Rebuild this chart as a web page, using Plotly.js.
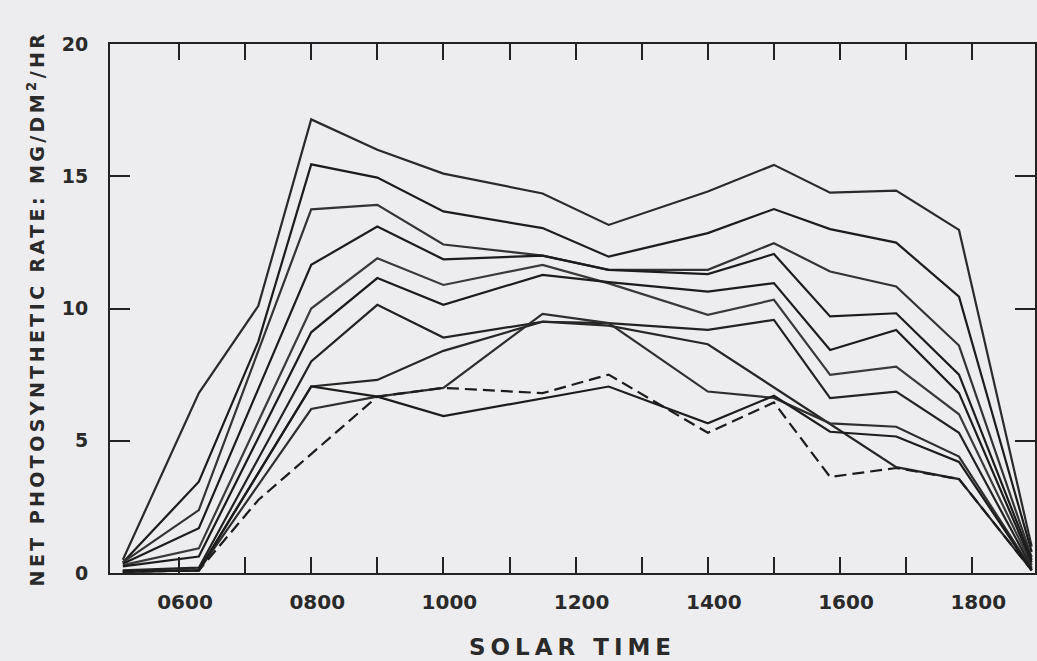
<!DOCTYPE html>
<html>
<head>
<meta charset="utf-8">
<script src="https://cdn.plot.ly/plotly-3.0.1.min.js"></script>
<style>
  html, body { margin: 0; padding: 0; background: #ededef; }
  #chart { width: 1037px; height: 661px; }
  .ytitle { letter-spacing: 3.4px; }
  .xtitle { letter-spacing: 5px; }
</style>
</head>
<body>
<div id="chart"></div>
<script>
// Solar time of each reading (decimal hours)
const times = [5.15, 6.3, 7.2, 8.0, 9.0, 10.0, 11.5, 12.5, 14.0, 15.0, 15.85, 16.85, 17.8, 18.9];

// Net photosynthetic rate, mg/dm^2/hr (null = no vertex drawn at that time)
const curve1 = [0.5, 6.8, 10.1, 17.15, 16.0, 15.1, 14.35, 13.16, 14.42, 15.43, 14.38, 14.46, 12.97, 1.0];
const curve2 = [0.4, 3.45, 8.75, 15.45, 14.95, 13.67, 13.04, 11.96, 12.85, 13.76, 13.0, 12.49, 10.45, 0.8];
const curve3 = [0.4, 2.38, null, 13.75, 13.92, 12.42, 12.0, 11.46, 11.46, 12.47, 11.4, 10.83, 8.6, 0.6];
const curve4 = [0.35, 1.69, null, 11.65, 13.1, 11.86, 12.0, 11.46, 11.3, 12.06, 9.7, 9.82, 7.5, 0.5];
const curve5 = [0.3, 0.93, null, 10.0, 11.9, 10.89, 11.65, 10.95, 9.76, 10.33, 7.49, 7.8, 6.0, 0.3];
const curve6 = [0.25, 0.62, null, 9.1, 11.15, 10.14, 11.27, 11.0, 10.64, 10.96, 8.43, 9.19, 6.8, 0.4];
const curve7 = [0.1, 0.2, null, 8.0, 10.14, 8.9, 9.5, 9.45, 9.19, 9.57, 6.61, 6.86, 5.3, 0.2];
const curve8 = [0.05, 0.1, null, 7.05, 7.3, 8.4, 9.5, 9.35, 8.65, null, null, 4.0, 3.55, 0.1];
const curve9 = [0.05, 0.1, null, 6.2, 6.67, 7.0, 9.8, 9.45, 6.86, 6.62, 5.66, 5.53, 4.4, 0.15];
const curve10 = [0.05, 0.1, null, 7.05, 6.67, 5.93, null, 7.05, 5.66, 6.7, 5.34, 5.16, 4.2, 0.1];
const curveDashed = [0.05, 0.1, 2.76, null, 6.67, 7.0, 6.8, 7.5, 5.3, 6.45, 3.63, 3.97, 3.55, 0.1];

const solidCurves = [curve1, curve2, curve3, curve4, curve5, curve6, curve7, curve8, curve9, curve10];
const curveColors = ['#2a2a2a', '#1c1c1c', '#333333', '#1c1c1c', '#3a3a3a', '#1c1c1c', '#222222', '#262626', '#2e2e2e', '#1c1c1c'];

// Axis ticks
const labelHours = [6, 8, 10, 12, 14, 16, 18];
const labelText = ['0600', '0800', '1000', '1200', '1400', '1600', '1800'];
const oddHours = [7, 9, 11, 13, 15, 17];
const rateTicks = [0, 5, 10, 15, 20];

const traces = solidCurves.map((vals, i) => ({
  type: 'scatter', mode: 'lines', x: times, y: vals, connectgaps: true,
  line: { color: curveColors[i], width: 2.2 }, hoverinfo: 'skip', showlegend: false
}));
traces.push({
  type: 'scatter', mode: 'lines', x: times, y: curveDashed, connectgaps: true,
  line: { color: '#1c1c1c', width: 2.2, dash: '12px,6px' }, hoverinfo: 'skip', showlegend: false
});

const ink = '#222222';
const layout = {
  width: 1037, height: 661,
  paper_bgcolor: '#ededef', plot_bgcolor: '#ededef',
  margin: { l: 110, r: 2, t: 44, b: 88 },
  showlegend: false,
  xaxis: {
    range: [4.956, 18.95], tickmode: 'array', tickvals: labelHours, ticktext: labelText,
    ticks: 'inside', ticklen: 16, tickwidth: 2, tickcolor: ink,
    minor: { tickmode: 'array', tickvals: oddHours, ticks: 'inside', ticklen: 16, tickwidth: 2, tickcolor: ink, showgrid: false },
    showline: true, linecolor: ink, linewidth: 2, mirror: 'ticks',
    showgrid: false, zeroline: false,
    ticklabelstandoff: 10, ticklabelshift: 6,
    tickfont: { family: 'DejaVu Sans', size: 20, color: '#2a2a2a', weight: 'bold' },
    title: { text: 'SOLAR TIME', standoff: 26,
      font: { family: 'DejaVu Sans', size: 23, color: '#2a2a2a', weight: 'bold' } }
  },
  yaxis: {
    range: [0, 20], tickmode: 'array', tickvals: rateTicks,
    ticks: 'inside', ticklen: 20, tickwidth: 2, tickcolor: ink,
    showline: true, linecolor: ink, linewidth: 2, mirror: 'ticks',
    showgrid: false, zeroline: false,
    ticklabelstandoff: 16,
    tickfont: { family: 'DejaVu Sans', size: 19, color: '#2a2a2a', weight: 'bold' },
    title: { text: 'NET PHOTOSYNTHETIC RATE: MG/DM<sup>2</sup>/HR', standoff: 12,
      font: { family: 'DejaVu Sans', size: 19, color: '#2a2a2a', weight: 'bold' } }
  }
};

Plotly.newPlot('chart', traces, layout, { staticPlot: true, displayModeBar: false });
</script>
</body>
</html>
